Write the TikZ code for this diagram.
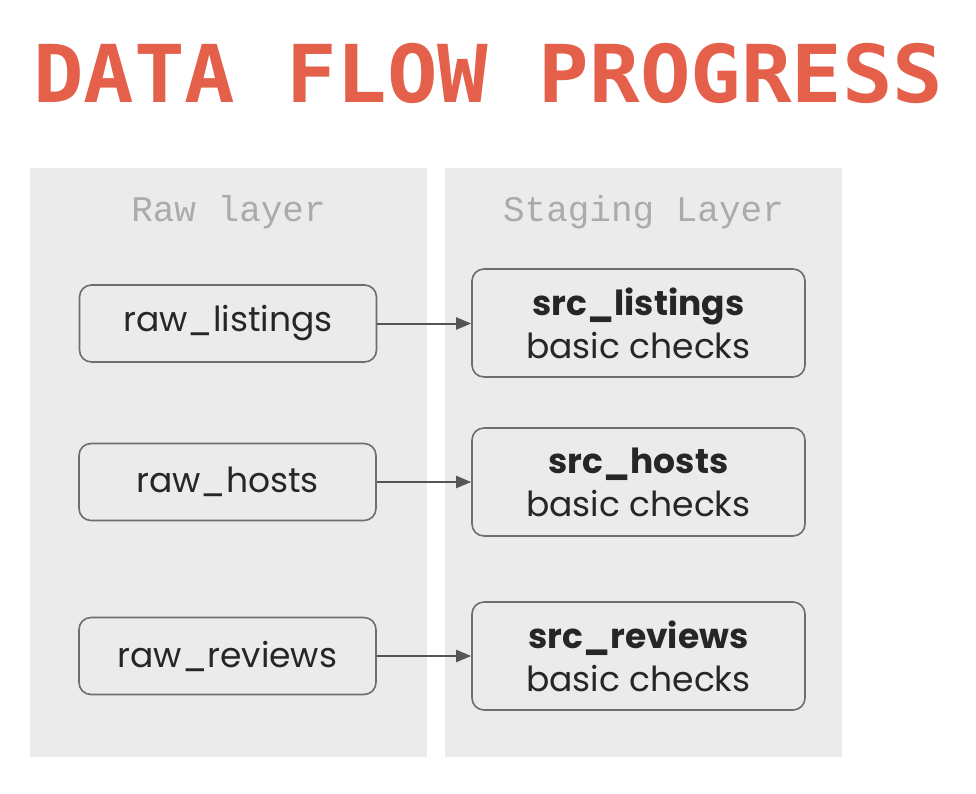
\documentclass[tikz,border=0pt]{standalone}
\usepackage{fontspec}
\setmainfont{Poppins}
\newfontfamily\titlefont{DejaVu Sans Mono}
\newfontfamily\layerfont{Liberation Mono}
\usetikzlibrary{arrows.meta}
\definecolor{titlered}{HTML}{E4604B}
\definecolor{panelgray}{HTML}{EBEBEB}
\definecolor{boxline}{HTML}{6E6E6E}
\definecolor{arrowgray}{HTML}{555555}
\definecolor{layergray}{HTML}{ABABAB}
\tikzset{
  panel/.style={fill=panelgray, draw=none},
  layerlabel/.style={font=\layerfont\fontsize{36}{40}\selectfont, text=layergray, anchor=base},
  rawbox/.style={draw=boxline, line width=1.6pt, rounded corners=12pt, fill=panelgray,
    minimum width=297pt, minimum height=77pt, inner sep=0pt,
    font=\fontsize{34.5}{40}\selectfont, text=black!85},
  srcbox/.style={draw=boxline, line width=1.6pt, rounded corners=12pt, fill=panelgray,
    minimum width=333pt, minimum height=108pt, inner sep=0pt, align=center,
    font=\fontsize{34.5}{43}\selectfont, text=black!85},
  flow/.style={draw=arrowgray, line width=2pt, -{Triangle[length=15pt,width=12pt]}}
}
\begin{document}
\begin{tikzpicture}[x=1pt,y=-1pt]
\useasboundingbox (0,0) rectangle (976,793);
\fill[white] (0,0) rectangle (976,793);
% title
\node[anchor=base west, inner sep=0pt, text=titlered] (title) at (33,102)
  {\scalebox{1}[0.95]{\titlefont\bfseries\fontsize{84}{90}\selectfont DATA FLOW PROGRESS}};
% panels
\path[panel] (30,168) rectangle (427,757);
\path[panel] (445,168) rectangle (842,757);
\node[layerlabel] (rawlabel) at (228.5,221) {Raw layer};
\node[layerlabel] (stglabel) at (643.5,221) {Staging Layer};
% raw boxes
\node[rawbox] (rl) at (228,323.5) {raw\_listings};
\node[rawbox] (rh) at (227.5,482) {raw\_hosts};
\node[rawbox] (rr) at (227.5,656) {raw\_reviews};
% src boxes
\node[srcbox] (sl) at (638.5,323) {\textbf{src\_listings}\\basic checks};
\node[srcbox] (sh) at (638.5,482) {\textbf{src\_hosts}\\basic checks};
\node[srcbox] (sr) at (638.5,656) {\textbf{src\_reviews}\\basic checks};
% arrows
\draw[flow] (rl.east) -- (rl.east -| sl.west);
\draw[flow] (rh.east) -- (rh.east -| sh.west);
\draw[flow] (rr.east) -- (rr.east -| sr.west);
\end{tikzpicture}
\end{document}
